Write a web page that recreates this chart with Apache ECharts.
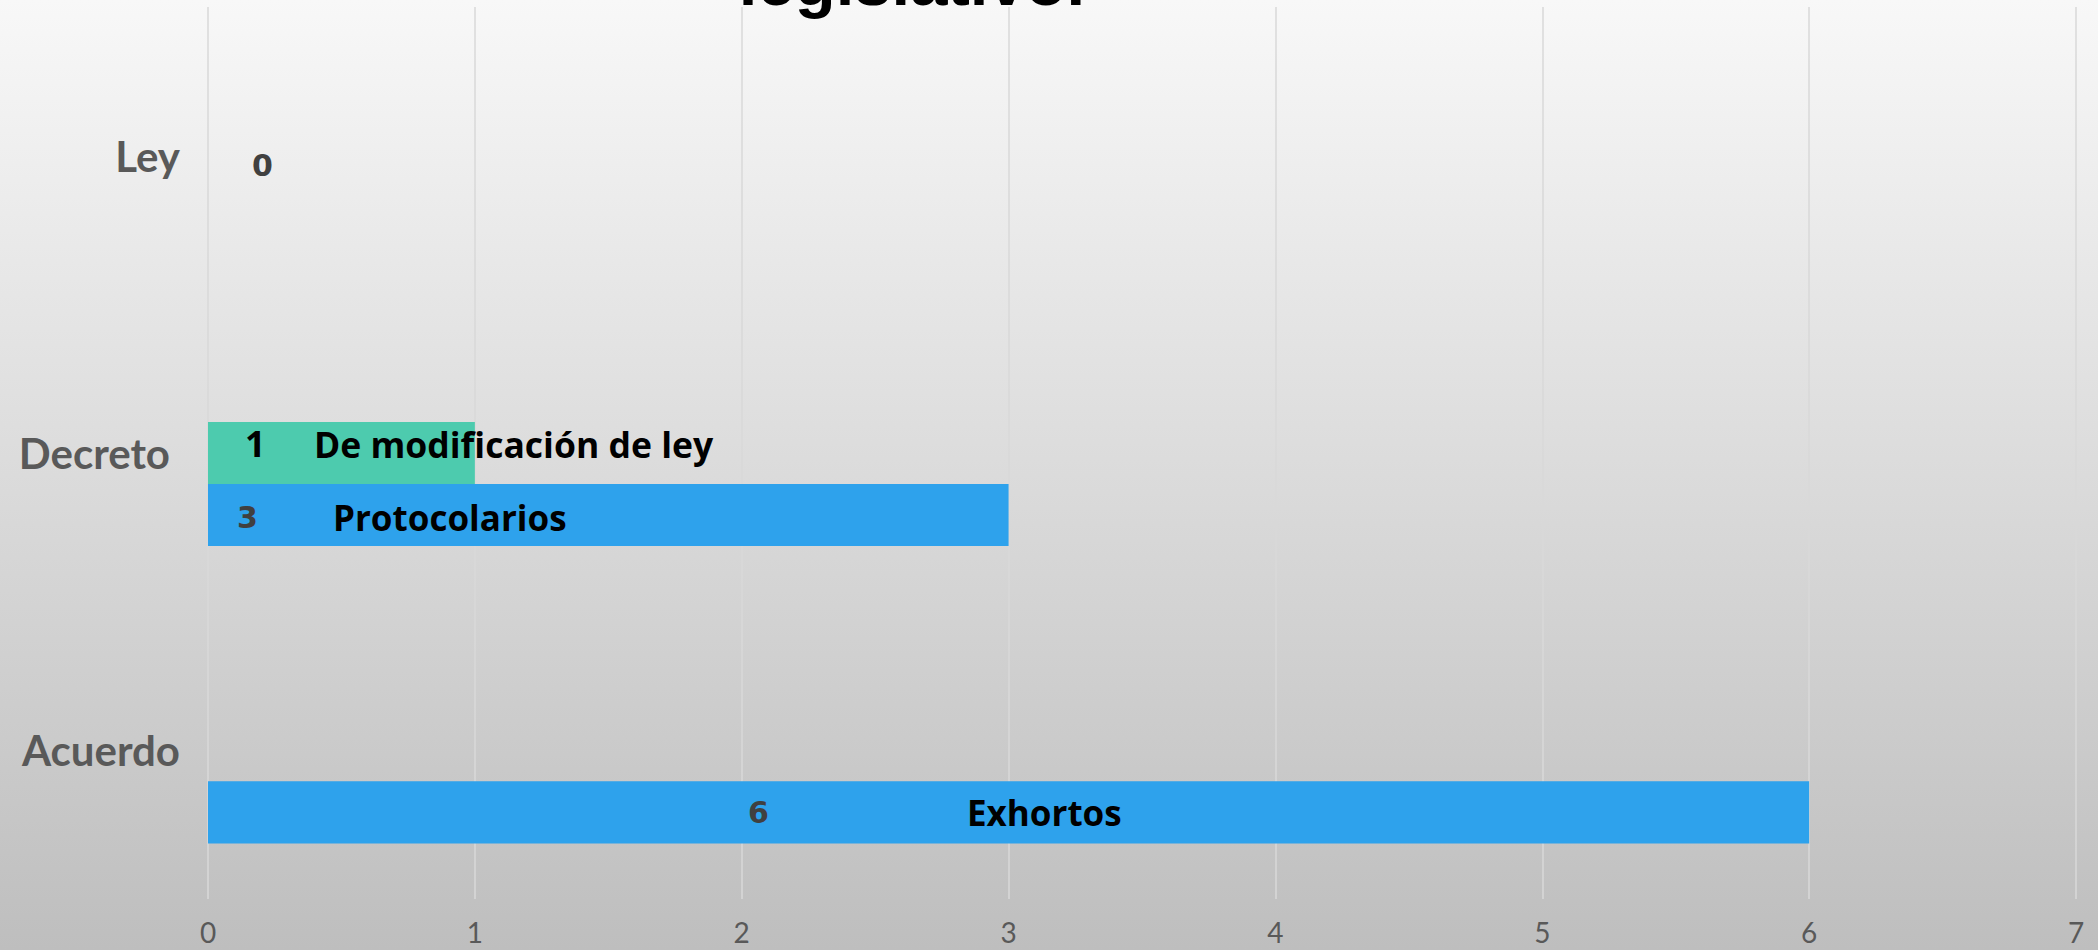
<!DOCTYPE html>
<html>
<head>
<meta charset="utf-8">
<script src="https://cdn.jsdelivr.net/npm/echarts@6/dist/echarts.min.js"></script>
<style>
  html, body { margin: 0; padding: 0; width: 2098px; height: 950px; overflow: hidden; }
  #chart { width: 2098px; height: 950px; }
</style>
</head>
<body>
<div id="chart"></div>
<script>
// ---- data ----
const categories = ['Ley', 'Decreto', 'Acuerdo'];
const xTicks = [0, 1, 2, 3, 4, 5, 6, 7];

// initiatives that modify an existing law
const modificacionValues = [0, 1, null];
const modificacionNames = ['', 'De modificación de ley', ''];

// protocol decrees and exhortation agreements
const otrasValues = [null, 3, 6];
const otrasNames = ['', 'Protocolarios', 'Exhortos'];

// empty group (keeps the three-slot spacing per category)
const reservaValues = [null, null, null];

const titleText = 'legislativo.';

// ---- label placement (relative to each bar's rectangle) ----
const modificacionLabels = [
  { x: 44, y: 41, style: 'vg', gap: 0, nameSize: 35 },
  { x: 37, y: 22, style: 'vb', gap: 69, nameSize: 35.5 },
  null
];
const otrasLabels = [
  null,
  { x: 29, y: 33, style: 'vg', gap: 96, nameSize: 35 },
  { x: 540, y: 31, style: 'vg', gap: 219, nameSize: 35 }
];
// extra right padding for individual category labels
const categoryPadRight = [0, 10, 0];

const GREEN = '#4DCBAE';
const BLUE = '#2EA2EC';

function buildItems(values, names, layout) {
  return values.map(function (v, i) {
    if (v === null) return null;
    const L = layout[i];
    const rich = {
      vg: { fontFamily: 'DejaVu Sans', fontWeight: 'bold', fontSize: 30, color: '#404040', width: L.gap || null, align: 'left' },
      vb: { fontFamily: 'Open Sans', fontWeight: 'bold', fontSize: 36, color: '#000000', width: L.gap || null, align: 'left' },
      n: { fontFamily: 'Open Sans', fontWeight: 'bold', fontSize: L.nameSize, color: '#000000' }
    };
    const text = names[i] ? '{' + L.style + '|' + v + '}{n|' + names[i] + '}' : '{' + L.style + '|' + v + '}';
    return {
      value: v,
      label: {
        show: true,
        position: [L.x, L.y],
        align: 'left',
        verticalAlign: 'middle',
        formatter: text,
        rich: rich
      }
    };
  });
}

const chart = echarts.init(document.getElementById('chart'), null, { renderer: 'svg' });

chart.setOption({
  animation: false,
  backgroundColor: {
    type: 'linear', x: 0, y: 0, x2: 0, y2: 1,
    colorStops: [
      { offset: 0, color: '#f8f8f8' },
      { offset: 1, color: '#bebebe' }
    ]
  },
  graphic: [{
    type: 'text',
    x: 912,
    y: -19,
    style: {
      text: titleText,
      fontFamily: 'Liberation Sans',
      fontWeight: 'bold',
      fontSize: 67,
      fill: '#000000',
      align: 'center',
      verticalAlign: 'middle'
    }
  }],
  grid: { left: 208, right: 22, top: 7, bottom: 51, outerBoundsMode: 'none' },
  xAxis: {
    type: 'value',
    min: xTicks[0],
    max: xTicks[xTicks.length - 1],
    interval: 1,
    axisLine: { show: false },
    axisTick: { show: false },
    splitLine: { show: true, lineStyle: { color: '#d9d9d9', width: 1.5 } },
    axisLabel: { fontFamily: 'Lato', fontSize: 28, lineHeight: 30, color: '#595959', margin: 18 }
  },
  yAxis: {
    type: 'category',
    data: categories.map(function (c, i) {
      return { value: c, textStyle: { padding: [0, categoryPadRight[i], 0, 0] } };
    }),
    inverse: true,
    axisLine: { show: false },
    axisTick: { show: false },
    splitLine: { show: false },
    axisLabel: { fontFamily: 'Lato', fontWeight: 'bold', fontSize: 42, color: '#595959', margin: 28 }
  },
  series: [
    {
      name: 'Reserva', type: 'bar', data: reservaValues,
      barGap: '0%', barCategoryGap: '37.4%', itemStyle: { color: '#999999' }
    },
    {
      name: 'De modificación de ley', type: 'bar',
      data: buildItems(modificacionValues, modificacionNames, modificacionLabels),
      barGap: '0%', barCategoryGap: '37.4%', itemStyle: { color: GREEN }
    },
    {
      name: 'Otras', type: 'bar',
      data: buildItems(otrasValues, otrasNames, otrasLabels),
      barGap: '0%', barCategoryGap: '37.4%', itemStyle: { color: BLUE }
    }
  ]
});
</script>
</body>
</html>
